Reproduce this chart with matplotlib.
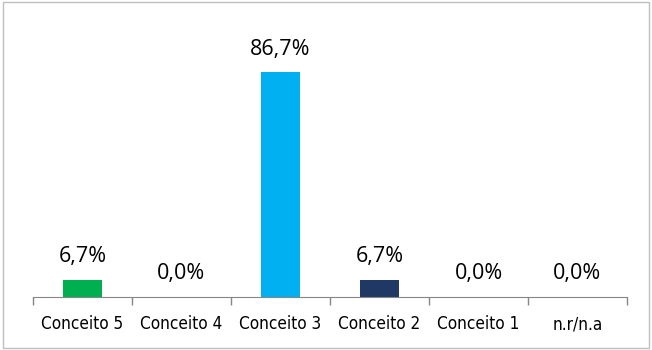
import matplotlib.pyplot as plt
from matplotlib.patches import Rectangle

categories = ["Conceito 5", "Conceito 4", "Conceito 3", "Conceito 2", "Conceito 1", "n.r/n.a"]
values = [6.7, 0.0, 86.7, 6.7, 0.0, 0.0]
colors = ["#00B050", "#00B0F0", "#00B0F0", "#203864", "#00B0F0", "#00B0F0"]

fig = plt.figure(figsize=(6.52, 3.5), dpi=100)
ax = fig.add_axes([33 / 652, 53 / 350, 594 / 652, 259 / 350])

x = range(len(categories))
bars = ax.bar(x, values, width=0.4, color=colors)

# value labels above each bar
for xi, v in zip(x, values):
    ax.annotate(f"{v:.1f}%".replace(".", ","), (xi, v), xytext=(0, 9),
                textcoords="offset points", ha="center", va="bottom",
                fontsize=15.5, family="Open Sans", color="#000000")

ax.set_xlim(-0.5, len(categories) - 0.5)
ax.set_ylim(0, 100)

# ticks between categories, labels centred under bars
ax.set_xticks([i - 0.5 for i in range(len(categories) + 1)])
ax.set_xticklabels([])
ax.set_xticks(list(x), minor=True)
ax.set_xticklabels(categories, minor=True, fontsize=12.3, family="DejaVu Sans",
                   fontstretch="condensed")
ax.tick_params(axis="x", which="major", length=6, color="#868686", width=1)
ax.tick_params(axis="x", which="minor", length=0, pad=13)
ax.set_yticks([])

for s in ["top", "right", "left"]:
    ax.spines[s].set_visible(False)
ax.spines["bottom"].set_color("#868686")

# outer border of the chart
fig.patches.append(Rectangle((3 / 652, 2 / 350), 646 / 652, 346 / 350,
                             transform=fig.transFigure, fill=False,
                             edgecolor="#BFBFBF", linewidth=1))

fig.savefig("out.png", dpi=100)
